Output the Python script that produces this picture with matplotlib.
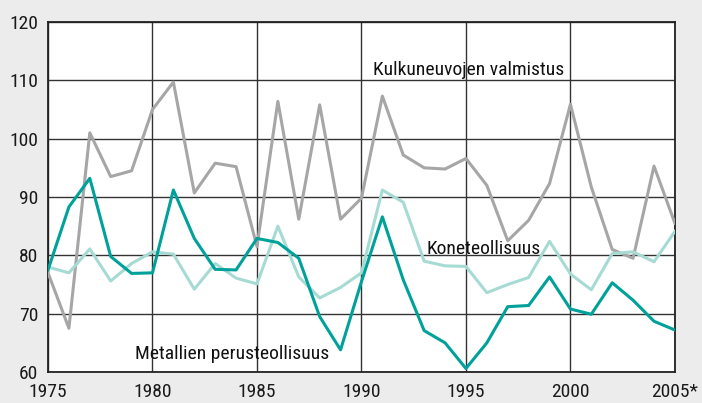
import matplotlib
matplotlib.use("Agg")
import matplotlib.pyplot as plt
from matplotlib import font_manager

years = list(range(1975, 2006))

kulkuneuvot = [77.0, 67.5, 101.0, 93.5, 94.5, 105.0, 109.7, 90.7, 95.8, 95.2,
               81.5, 106.4, 86.2, 105.8, 86.2, 89.8, 107.3, 97.2, 95.0, 94.8,
               96.6, 92.0, 82.5, 86.0, 92.3, 105.9, 91.7, 81.0, 79.5, 95.3, 85.5]

metallit = [77.5, 88.3, 93.2, 79.8, 76.9, 77.0, 91.2, 82.9, 77.6, 77.5,
            82.9, 82.2, 79.5, 69.5, 63.8, 75.5, 86.6, 75.8, 67.1, 65.0,
            60.6, 65.0, 71.2, 71.4, 76.3, 70.8, 69.9, 75.3, 72.3, 68.7, 67.2]

koneet = [78.0, 77.0, 81.1, 75.6, 78.6, 80.6, 80.2, 74.2, 78.6, 76.1,
          75.1, 85.0, 76.3, 72.7, 74.5, 77.0, 91.2, 89.1, 79.0, 78.2,
          78.1, 73.6, 75.0, 76.2, 82.4, 76.8, 74.1, 80.3, 80.6, 78.9, 84.1]

xticks = [1975, 1980, 1985, 1990, 1995, 2000, 2005]
xlabels = ["1975", "1980", "1985", "1990", "1995", "2000", "2005*"]
yticks = [60, 70, 80, 90, 100, 110, 120]

# kapea fontti jos loytyy
names = {f.name for f in font_manager.fontManager.ttflist}
fam = "Liberation Sans"
for n in ["Roboto Condensed", "Liberation Sans Narrow", "Open Sans Condensed"]:
    if n in names:
        fam = n
        break
plt.rcParams["font.family"] = [fam, "DejaVu Sans"]

fig = plt.figure(figsize=(7.02, 4.03), dpi=100, facecolor="#ececec")
ax = fig.add_axes([0.0684, 0.0769, 0.893, 0.8685])
ax.set_facecolor("white")

ax.plot(years, kulkuneuvot, color="#a6a6a6", lw=2.2, zorder=3)
ax.plot(years, koneet, color="#a6dbd4", lw=2.2, zorder=3)
ax.plot(years, metallit, color="#00a19a", lw=2.2, zorder=4)

ax.set_xlim(1975, 2005)
ax.set_ylim(60, 120)
ax.set_xticks(xticks)
ax.set_xticklabels(xlabels)
ax.set_yticks(yticks)
ax.tick_params(length=0, labelsize=14, colors="#1a1a1a")
ax.tick_params(axis="y", pad=7)
ax.tick_params(axis="x", pad=8)
ax.grid(True, color="#333333", lw=1.0, zorder=1)
for s in ax.spines.values():
    s.set_color("#222222")
    s.set_linewidth(1.3)

ax.text(1990.55, 111.0, "Kulkuneuvojen valmistus", fontsize=14, color="#111111")
ax.text(1993.1, 80.2, "Koneteollisuus", fontsize=14, color="#111111")
ax.text(1979.15, 62.3, "Metallien perusteollisuus", fontsize=14, color="#111111")

fig.savefig("out.png", dpi=100, facecolor=fig.get_facecolor())
